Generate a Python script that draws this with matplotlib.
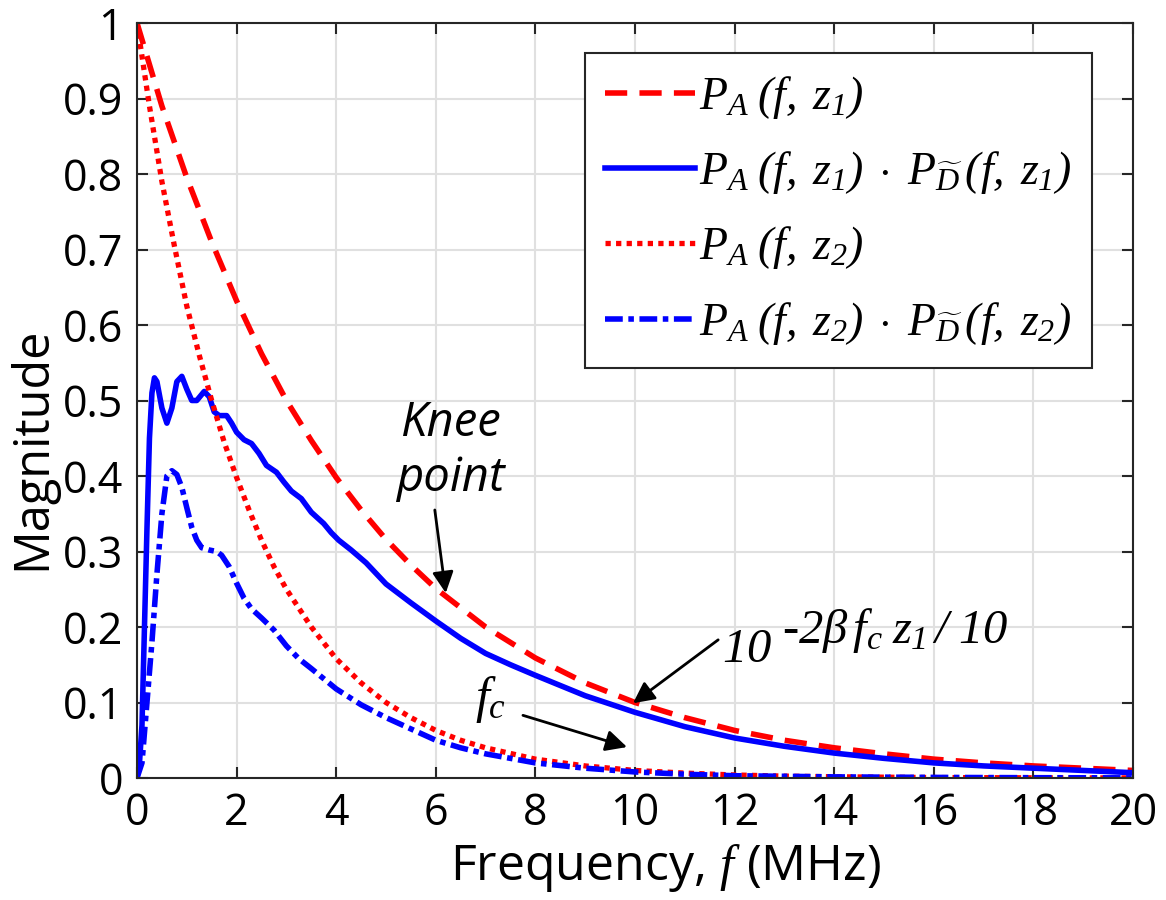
import matplotlib
matplotlib.use("Agg")
import matplotlib.pyplot as plt

plt.rcParams['font.family'] = ['Open Sans', 'DejaVu Sans']
plt.rcParams['mathtext.fontset'] = 'custom'
plt.rcParams['mathtext.rm'] = 'Liberation Serif:italic'
plt.rcParams['mathtext.it'] = 'Liberation Serif:italic'
plt.rcParams['mathtext.bf'] = 'Liberation Serif:italic'

# red dashed  P_A(f, z1)
f_z1 = [0, 0.5, 1, 1.5, 2, 2.5, 3, 3.5, 4, 4.5, 5, 5.5, 6, 7, 8, 9, 10,
        11, 12, 13, 14, 15, 16, 17, 18, 19, 20]
pa_z1 = [1.0, 0.89, 0.795, 0.71, 0.632, 0.562, 0.5, 0.447, 0.398, 0.355,
         0.316, 0.282, 0.251, 0.2, 0.159, 0.126, 0.1, 0.08, 0.063, 0.05,
         0.04, 0.032, 0.025, 0.02, 0.016, 0.013, 0.01]

# red dotted  P_A(f, z2)
f_z2 = [0, 0.25, 0.5, 0.75, 1, 1.25, 1.5, 1.75, 2, 2.25, 2.5, 2.75, 3, 3.5,
        4, 4.5, 5, 5.5, 6, 6.5, 7, 8, 9, 10, 11, 12, 13, 14, 16, 18, 20]
pa_z2 = [1.0, 0.89, 0.79, 0.705, 0.625, 0.56, 0.5, 0.445, 0.398, 0.355,
         0.315, 0.28, 0.25, 0.2, 0.158, 0.126, 0.1, 0.08, 0.063, 0.05, 0.04,
         0.025, 0.016, 0.01, 0.0065, 0.004, 0.0025, 0.0016, 0.0006,
         0.00025, 0.0001]

# blue solid  P_A(f, z1) * P_D(f, z1)
f_d1 = [0, 0.05, 0.1, 0.15, 0.2, 0.25, 0.3, 0.35, 0.4, 0.5, 0.6, 0.7, 0.8,
        0.9, 1.0, 1.1, 1.2, 1.35, 1.45, 1.55, 1.65, 1.8, 1.9, 2.0, 2.15,
        2.3, 2.45, 2.6, 2.8, 2.95, 3.1, 3.3, 3.5, 3.75, 3.9, 4.05, 4.3, 4.6,
        5.0, 5.5, 6.0, 6.5, 7.0, 7.5, 8, 9, 10, 11, 12, 13, 14, 15, 16, 17,
        18, 19, 20]
pd_z1 = [0, 0.02, 0.07, 0.2, 0.33, 0.45, 0.51, 0.53, 0.525, 0.49, 0.47,
         0.49, 0.525, 0.532, 0.515, 0.5, 0.5, 0.512, 0.505, 0.485, 0.48,
         0.48, 0.47, 0.458, 0.448, 0.443, 0.43, 0.414, 0.405, 0.392, 0.38,
         0.37, 0.352, 0.337, 0.325, 0.315, 0.302, 0.285, 0.257, 0.232,
         0.208, 0.185, 0.165, 0.15, 0.136, 0.109, 0.087, 0.068, 0.053,
         0.042, 0.033, 0.026, 0.02, 0.016, 0.013, 0.01, 0.007]

# blue dash-dot  P_A(f, z2) * P_D(f, z2)
f_d2 = [0, 0.1, 0.2, 0.3, 0.4, 0.5, 0.6, 0.7, 0.8, 0.9, 1.0, 1.1, 1.2, 1.3,
        1.45, 1.6, 1.7, 1.85, 2.0, 2.15, 2.3, 2.5, 2.75, 3.0, 3.25, 3.5,
        4.0, 4.5, 5.0, 5.5, 6, 6.5, 7, 8, 9, 10, 11, 12, 14, 16, 18, 20]
pd_z2 = [0, 0.02, 0.1, 0.18, 0.27, 0.35, 0.4, 0.407, 0.402, 0.385, 0.358,
         0.332, 0.315, 0.305, 0.302, 0.3, 0.295, 0.28, 0.258, 0.238, 0.224,
         0.212, 0.196, 0.175, 0.158, 0.145, 0.118, 0.097, 0.08, 0.065, 0.05,
         0.04, 0.032, 0.02, 0.013, 0.008, 0.005, 0.003, 0.0015, 0.0008,
         0.0004, 0.0002]

labels = [r'$P_A\;(f,\; z_1)$',
          r'$P_A\;(f,\; z_1)\;\cdot\;P_{\widetilde{D}}\,(f,\; z_1)$',
          r'$P_A\;(f,\; z_2)$',
          r'$P_A\;(f,\; z_2)\;\cdot\;P_{\widetilde{D}}\,(f,\; z_2)$']

xticks = list(range(0, 21, 2))
yticks = [i / 10 for i in range(11)]
ytick_labels = ['0', '0.1', '0.2', '0.3', '0.4', '0.5', '0.6', '0.7',
                '0.8', '0.9', '1']

fig = plt.figure(figsize=(11.66, 9), dpi=100)
ax = fig.add_axes([137 / 1166, 1 - 778 / 900, 996 / 1166, 755 / 900])

ax.plot(f_z1, pa_z1, color='#ff0000', lw=4, dashes=(4, 2.2), label=labels[0])
ax.plot(f_d1, pd_z1, color='#0000ff', lw=4, label=labels[1])
ax.plot(f_z2, pa_z2, color='#ff0000', lw=3.8, dashes=(1, 1), label=labels[2])
ax.plot(f_d2, pd_z2, color='#0000ff', lw=4, dashes=(3.2, 1, 1, 1),
        label=labels[3])

ax.set_xlim(0, 20)
ax.set_ylim(0, 1)
ax.set_xticks(xticks)
ax.set_yticks(yticks)
ax.set_yticklabels(ytick_labels)
ax.grid(True, color='#e0e0e0', lw=1.5)
ax.set_axisbelow(True)
for s in ax.spines.values():
    s.set_color('#262626')
    s.set_linewidth(1.5)
ax.tick_params(direction='in', length=8, width=1.5, color='#262626',
               top=True, right=True, labelsize=31, pad=10)

fig.text(32 / 1166, 1 - 448 / 900, 'Magnitude', rotation=90, fontsize=35,
         ha='center', va='center')
fig.text(665 / 1166, 1 - 868 / 900, r'Frequency, $f$ (MHz)', fontsize=36,
         ha='center', va='center')

leg = ax.legend(loc='upper right', bbox_to_anchor=(1092 / 1166, 1 - 53 / 900),
                bbox_transform=fig.transFigure, fontsize=33, fancybox=False,
                framealpha=1, edgecolor='#262626', handlelength=1.95,
                handletextpad=0.1, labelspacing=0.62, borderaxespad=0,
                borderpad=0.45)
leg.get_frame().set_linewidth(1.5)

arrow = dict(arrowstyle='-|>', color='k', lw=2, mutation_scale=32,
             shrinkA=0, shrinkB=0)

ax.text(6.29, 0.433, 'Knee\npoint', fontsize=34, style='italic',
        ha='center', va='center', linespacing=1.2)
ax.annotate('', xy=(6.2, 0.245), xytext=(5.98, 0.355), arrowprops=arrow)

ax.text(11.75, 0.1535, r'$10$', fontsize=35, ha='left', va='baseline')
ax.text(12.95, 0.179, r'$\text{-}2\beta\, f_c\; z_1\,/\;10$', fontsize=35,
        ha='left', va='baseline')
ax.annotate('', xy=(9.96, 0.099), xytext=(11.67, 0.183), arrowprops=arrow)

ax.text(6.79, 0.087, r'$f_c$', fontsize=36, ha='left', va='baseline')
ax.annotate('', xy=(9.84, 0.041), xytext=(7.75, 0.083), arrowprops=arrow)

fig.savefig('out.png', dpi=100)
